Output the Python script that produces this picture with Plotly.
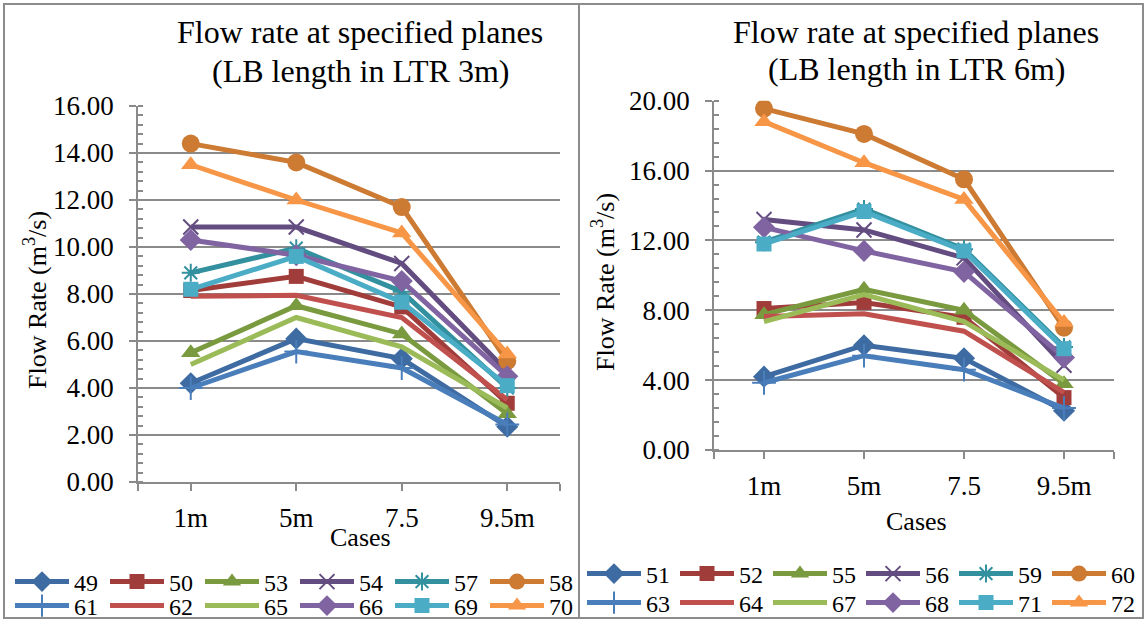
import plotly.graph_objects as go

# ---- data -------------------------------------------------------------
cases = ["1m", "5m", "7.5", "9.5m"]

# LB length in LTR 3m
p49 = [4.2, 6.1, 5.25, 2.35]
p50 = [8.15, 8.75, 7.45, 3.35]
p53 = [5.5, 7.5, 6.3, 2.9]
p54 = [10.85, 10.85, 9.3, 4.7]
p57 = [8.9, 9.95, 8.1, 4.0]
p58 = [14.4, 13.6, 11.7, 5.15]
p61 = [4.0, 5.55, 4.85, 2.45]
p62 = [7.9, 7.95, 7.0, 3.5]
p65 = [5.0, 7.0, 5.75, 3.15]
p66 = [10.3, 9.65, 8.55, 4.5]
p69 = [8.2, 9.6, 7.65, 4.1]
p70 = [13.5, 12.0, 10.6, 5.45]

# LB length in LTR 6m
p51 = [4.2, 6.0, 5.25, 2.25]
p52 = [8.1, 8.45, 7.6, 3.0]
p55 = [7.75, 9.2, 8.0, 3.8]
p56 = [13.2, 12.6, 11.0, 4.85]
p59 = [11.9, 13.8, 11.5, 5.9]
p60 = [19.55, 18.1, 15.5, 7.0]
p63 = [3.85, 5.4, 4.6, 2.4]
p64 = [7.65, 7.8, 6.8, 3.3]
p67 = [7.35, 8.9, 7.35, 4.0]
p68 = [12.75, 11.4, 10.2, 5.3]
p71 = [11.8, 13.65, 11.4, 5.8]
p72 = [18.8, 16.45, 14.35, 7.3]

left_names = ["49", "50", "53", "54", "57", "58", "61", "62", "65", "66", "69", "70"]
left_values = [p49, p50, p53, p54, p57, p58, p61, p62, p65, p66, p69, p70]
right_names = ["51", "52", "55", "56", "59", "60", "63", "64", "67", "68", "71", "72"]
right_values = [p51, p52, p55, p56, p59, p60, p63, p64, p67, p68, p71, p72]

# ---- styling per series slot -----------------------------------------
colors = ["#3D6BA2", "#A03D3A", "#7A9A3F", "#634C80", "#33909F", "#CD7A33",
          "#4A7EBB", "#C0504D", "#9BBB59", "#8064A2", "#4BACC6", "#F79646"]
symbols = ["diamond", "square", "triangle-up", "x-thin", "asterisk", "circle",
           "cross-thin", None, None, "diamond", "square", "triangle-up"]
sizes = [17, 15, 17, 15, 15, 18, 17, 0, 0, 17, 15, 17]

W, H = 1147, 621
FONT = "Liberation Serif, Times New Roman, serif"
GRID = "#8A8A8A"


def px_x(v):
    return v / W


def px_y(v):
    return 1 - v / H


fig = go.Figure()
xpos = list(range(len(cases)))


def add_series(names, values, xa, ya, legends):
    for i, (name, vals) in enumerate(zip(names, values)):
        sym = symbols[i]
        thin = sym in ("x-thin", "asterisk", "cross-thin")
        mode = "lines+markers" if sym else "lines"
        marker = dict(color=colors[i], size=sizes[i])
        if sym:
            marker["symbol"] = sym
            if thin:
                marker["line"] = dict(color=colors[i], width=2)
        fig.add_trace(go.Scatter(
            x=xpos, y=vals, name=name, mode=mode,
            line=dict(color=colors[i], width=5),
            marker=marker, xaxis=xa, yaxis=ya,
            legend=legends[0] if i < 6 else legends[1],
            hoverinfo="skip",
        ))


add_series(left_names, left_values, "x", "y", ("legend", "legend2"))
add_series(right_names, right_values, "x2", "y2", ("legend3", "legend4"))

tick_font = dict(family=FONT, size=27, color="black")

xcommon = dict(
    range=[-0.5, len(cases) - 0.5],
    tickmode="array",
    tickvals=[-0.5] + xpos + [len(cases) - 0.5],
    ticktext=[""] + cases + [""],
    ticks="outside", ticklen=7, tickwidth=1.5, tickcolor=GRID,
    showline=True, linecolor=GRID, linewidth=1.5,
    showgrid=False, zeroline=False, automargin=False,
    tickfont=tick_font, ticklabelstandoff=4,
    fixedrange=True,
)

ycommon = dict(
    ticks="outside", ticklen=7, tickwidth=1.5, tickcolor=GRID,
    showline=True, linecolor=GRID, linewidth=1.5,
    showgrid=True, gridcolor=GRID, gridwidth=1.5,
    zeroline=False, tickformat=".2f", automargin=False,
    tickfont=tick_font, ticklabelstandoff=10,
    fixedrange=True,
)

left_dom_x = [px_x(138), px_x(560)]
left_dom_y = [px_y(482), px_y(106)]
right_dom_x = [px_x(714), px_x(1114)]
right_dom_y = [px_y(450), px_y(100.7)]

fig.update_layout(
    template="none",
    width=W, height=H,
    margin=dict(l=0, r=0, t=0, b=0, autoexpand=False),
    paper_bgcolor="white", plot_bgcolor="white",
    font=dict(family=FONT, color="black"),
    xaxis=dict(domain=left_dom_x, anchor="y", **xcommon),
    yaxis=dict(domain=left_dom_y, anchor="x", range=[0, 16], dtick=2,
               minor=dict(dtick=0.4, ticks="inside", ticklen=5, tickwidth=1.5,
                          tickcolor=GRID, showgrid=False),
               **ycommon),
    xaxis2=dict(domain=right_dom_x, anchor="y2", **xcommon),
    yaxis2=dict(domain=right_dom_y, anchor="x2", range=[0, 20], dtick=4,
                minor=dict(dtick=0.8, ticks="inside", ticklen=5, tickwidth=1.5,
                           tickcolor=GRID, showgrid=False),
                **ycommon),
    showlegend=True,
)


def legend_at(x, y, entry):
    return dict(orientation="h", xanchor="left", yanchor="middle",
                x=px_x(x), y=px_y(y), itemwidth=54,
                entrywidth=entry, entrywidthmode="pixels",
                font=dict(family=FONT, size=24, color="black"),
                bgcolor="rgba(0,0,0,0)", borderwidth=0, tracegroupgap=0)


fig.update_layout(
    legend=legend_at(10, 582, 26),
    legend2=legend_at(10, 606, 26),
    legend3=legend_at(582, 574, 24),
    legend4=legend_at(582, 603, 24),
)

# titles and axis titles
ann = []
title_font = dict(family=FONT, size=32, color="black")
axis_font = dict(family=FONT, size=26, color="black")
for cx, y1, y2, label in [(360, 32, 71, "(LB length in LTR 3m)"),
                          (916, 32, 69, "(LB length in LTR 6m)")]:
    ann.append(dict(x=px_x(cx), y=px_y(y1), text="Flow rate at specified planes",
                    showarrow=False, font=title_font, xref="paper", yref="paper",
                    xanchor="center", yanchor="middle"))
    ann.append(dict(x=px_x(cx), y=px_y(y2), text=label,
                    showarrow=False, font=title_font, xref="paper", yref="paper",
                    xanchor="center", yanchor="middle"))

ylabel = "Flow Rate (m<sup>3</sup>/s)"
ann.append(dict(x=px_x(36), y=px_y(300), text=ylabel, textangle=-90, showarrow=False,
                font=axis_font, xref="paper", yref="paper",
                xanchor="center", yanchor="middle"))
ann.append(dict(x=px_x(603), y=px_y(282), text=ylabel, textangle=-90, showarrow=False,
                font=axis_font, xref="paper", yref="paper",
                xanchor="center", yanchor="middle"))
ann.append(dict(x=px_x(360), y=px_y(537), text="Cases", showarrow=False,
                font=axis_font, xref="paper", yref="paper",
                xanchor="center", yanchor="middle"))
ann.append(dict(x=px_x(916), y=px_y(521), text="Cases", showarrow=False,
                font=axis_font, xref="paper", yref="paper",
                xanchor="center", yanchor="middle"))
fig.update_layout(annotations=ann)

# chart frames
frame = dict(color="#8C8C8C", width=2)
fig.update_layout(shapes=[
    dict(type="rect", xref="paper", yref="paper",
         x0=px_x(4), x1=px_x(1143), y0=px_y(618), y1=px_y(4), line=frame),
    dict(type="line", xref="paper", yref="paper",
         x0=px_x(579), x1=px_x(579), y0=px_y(618), y1=px_y(4), line=frame),
])

fig.write_html("out.html")
